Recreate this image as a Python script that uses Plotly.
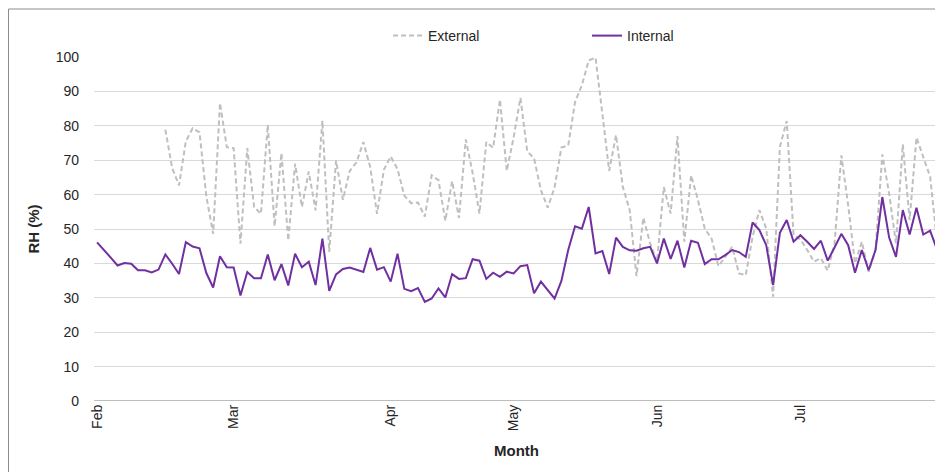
import plotly.graph_objects as go

# ---- data ----
month_labels = ["Feb", "Mar", "Apr", "May", "Jun", "Jul"]
month_start_index = [0, 20, 43, 61, 82, 103]

internal_rh = [
    46.1, 44.0, 41.7, 39.4, 40.1, 39.9, 38.0, 38.0, 37.4, 38.2,
    42.6, 39.9, 36.9, 46.2, 44.9, 44.4, 37.2, 33.0, 42.1, 38.9,
    38.8, 30.7, 37.5, 35.7, 35.7, 42.6, 35.1, 39.8, 33.6, 42.8,
    38.9, 40.5, 33.7, 47.2, 32.0, 36.8, 38.4, 38.8, 38.2, 37.5,
    44.5, 38.2, 38.9, 34.7, 42.8, 32.6, 31.9, 32.8, 28.8, 29.8,
    32.7, 30.1, 36.9, 35.5, 35.7, 41.2, 40.8, 35.5, 37.3, 36.1,
    37.6, 37.1, 39.2, 39.5, 31.3, 34.7, 32.2, 29.8, 34.9, 43.9,
    50.8, 50.1, 56.4, 42.9, 43.6, 36.9, 47.5, 44.8, 43.8, 43.7,
    44.4, 44.8, 40.0, 47.2, 41.3, 46.6, 38.8, 46.6, 46.0, 39.8,
    41.2, 41.2, 42.4, 43.9, 43.3, 41.9, 51.9, 49.7, 45.3, 33.7,
    48.9, 52.6, 46.3, 48.2, 46.3, 44.2, 46.6, 40.8, 44.6, 48.6,
    45.3, 37.3, 43.9, 38.0, 43.9, 59.3, 47.5, 41.9, 55.5, 48.4,
    56.2, 48.4, 49.5, 44.1,
]

external_rh = [
    None, None, None, None, None, None, None, None, None, None,
    78.9, 67.7, 62.7, 75.5, 79.3, 78.1, 59.5, 48.6, 86.6, 73.8,
    73.5, 45.7, 73.5, 56.4, 54.4, 80.3, 50.8, 72.1, 46.7, 69.0,
    56.4, 66.7, 55.4, 81.5, 43.3, 69.9, 58.5, 66.9, 69.4, 75.3,
    68.0, 54.4, 67.2, 71.1, 67.4, 59.7, 57.5, 57.7, 53.6, 65.6,
    64.2, 52.4, 63.9, 53.2, 76.0, 66.3, 54.5, 75.3, 73.6, 87.6,
    66.9, 76.6, 88.1, 72.6, 70.5, 61.3, 56.2, 62.1, 73.7, 74.3,
    86.9, 91.8, 99.0, 99.8, 83.5, 66.9, 77.3, 62.2, 55.5, 36.3,
    53.3, 45.8, 40.5, 62.2, 54.5, 77.0, 46.3, 65.6, 58.4, 50.1,
    47.2, 39.2, 41.9, 44.8, 37.1, 36.6, 47.7, 55.5, 50.1, 30.3,
    73.9, 81.4, 48.2, 47.0, 43.9, 40.5, 41.5, 37.9, 45.8, 71.4,
    56.9, 40.0, 46.3, 37.6, 43.9, 71.7, 60.3, 45.8, 74.6, 52.6,
    76.6, 71.0, 65.2, 46.6,
]

y_ticks = [0, 10, 20, 30, 40, 50, 60, 70, 80, 90, 100]

x_index = list(range(len(internal_rh)))

FONT = "Liberation Sans, Arial, sans-serif"
TXT = "#262626"

fig = go.Figure()
fig.add_trace(go.Scatter(
    x=x_index, y=external_rh, name="External", mode="lines",
    line=dict(color="#BFBFBF", width=2, dash="5px,3px"),
    connectgaps=False,
))
fig.add_trace(go.Scatter(
    x=x_index, y=internal_rh, name="Internal", mode="lines",
    line=dict(color="#7030A0", width=2),
))

# figure is placed 8px from the page corner by the page's body margin
W, H = 943, 472
ml, mr, mt, mb = 86, 12, 49, 79
pw, ph = W - ml - mr, H - mt - mb

def px_x(p):
    return (p - ml) / pw

def px_y(p):
    return (H - mb - p) / ph

fig.update_layout(
    width=W, height=H,
    margin=dict(l=ml, r=mr, t=mt, b=mb, autoexpand=False),
    paper_bgcolor="white", plot_bgcolor="white",
    font=dict(family=FONT, size=14, color=TXT),
    showlegend=True,
    legend=dict(
        orientation="h", x=px_x(380), y=px_y(28), xanchor="left", yanchor="middle",
        font=dict(size=14, color=TXT),
        entrywidth=154, entrywidthmode="pixels",
        bgcolor="rgba(0,0,0,0)", itemwidth=30,
    ),
    xaxis=dict(
        range=[-0.45, 123.3],
        tickmode="array", tickvals=month_start_index, ticktext=month_labels,
        tickangle=-90, showgrid=False, zeroline=False,
        showline=False, ticks="",
        tickfont=dict(size=14, color=TXT),
        title=dict(text="<b>Month</b>", font=dict(size=15, color=TXT), standoff=15),
    ),
    yaxis=dict(
        range=[0, 100], tickmode="array", tickvals=y_ticks,
        showgrid=True, gridcolor="#D9D9D9", gridwidth=1,
        zeroline=False, showline=False, ticks="",
        ticklabelstandoff=14,
        tickfont=dict(size=14, color=TXT),
        title=dict(text="<b>RH (%)</b>", font=dict(size=15, color=TXT), standoff=12),
    ),
    shapes=[
        dict(type="line", xref="paper", yref="y", x0=0, x1=1, y0=0, y1=0,
             line=dict(color="#A6A6A6", width=1.5), layer="below"),
        dict(type="rect", xref="paper", yref="paper",
             x0=px_x(0.5), x1=px_x(980), y0=px_y(500), y1=px_y(1.0),
             line=dict(color="#8C8C8C", width=1), fillcolor="rgba(0,0,0,0)"),
    ],
)

fig.write_html("out.html")
